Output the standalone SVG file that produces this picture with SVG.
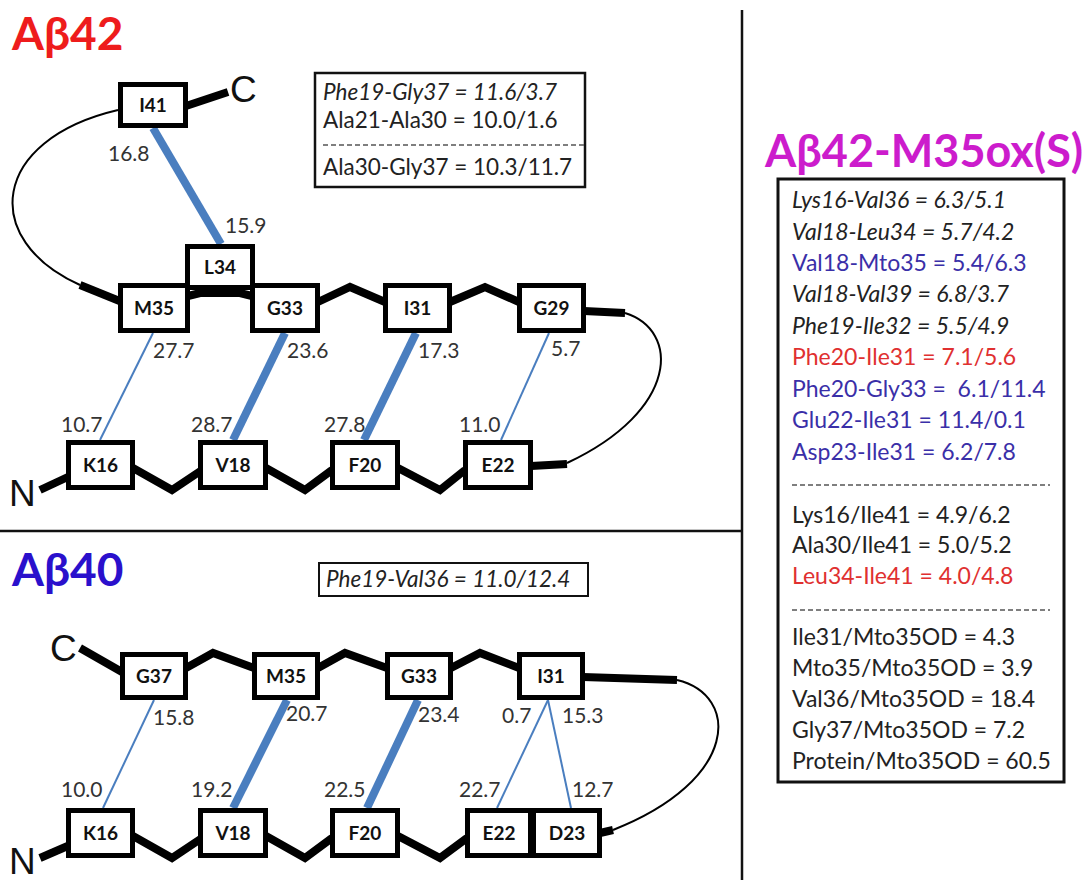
<svg xmlns="http://www.w3.org/2000/svg" width="1082" height="880" viewBox="0 0 1082 880">
<style>
text{font-family:Lato,"Liberation Sans",sans-serif}
.node rect{fill:#fff;stroke:#000;stroke-width:5}
.node text{font-weight:bold;font-size:19px;text-anchor:middle;fill:#111}
.bb{fill:none;stroke:#000;stroke-width:8;stroke-linejoin:miter}
.loop{fill:none;stroke:#000;stroke-width:2}
.hk{stroke:#4a7ebf;stroke-width:8}
.hn{stroke:#4a7ebf;stroke-width:2}
.num{font-size:21px;fill:#333}
.term{font-family:"Liberation Sans",Arial,sans-serif;font-size:37px;fill:#111}
.title{font-weight:bold;font-size:46px}
.leg{font-size:22.5px;fill:#222}
.rl{font-size:23px}
.it{font-style:italic}
.blu{fill:#3a2fa8}
.red{fill:#e03030}
.frame{fill:#fff;stroke:#111;stroke-width:2.5}
.dash{stroke:#555;stroke-width:1.5;stroke-dasharray:5 3}
.div{stroke:#111;stroke-width:2.5}
</style>

<!-- dividers -->
<line class="div" x1="742" y1="10" x2="742" y2="880"/>
<line class="div" x1="0" y1="531" x2="742" y2="531"/>

<!-- titles -->
<text class="title" x="12" y="50" fill="#ee1c1c">Aβ42</text>
<text class="title" x="12" y="586" fill="#2a10cc">Aβ40</text>
<text class="title" x="765" y="167" fill="#cc1ccc" style="font-size:45px">Aβ42-M35ox(S)</text>

<!-- terminals -->
<text class="term" x="230" y="102">C</text>
<text class="term" x="9" y="506">N</text>
<text class="term" x="50" y="661">C</text>
<text class="term" x="9" y="874">N</text>

<!-- connectors -->
<g id="connectors">
  <!-- A42 backbone -->
  <path class="bb" d="M186,106 L228,92"/>
  <path class="loop" d="M118,110 C-10,140 -20,240 80,285"/>
  <path class="bb" d="M80,285 L122,302"/>
  <path class="bb" d="M188,296 L200,293 L240,293 L252,296"/>
  <path class="bb" d="M318,302 L350,287 L385,302"/>
  <path class="bb" d="M450,302 L485,287 L519,302"/>
  <path class="bb" d="M584,311 L625,313"/>
  <path class="loop" d="M625,313 C680,330 680,410 567,463"/>
  <path class="bb" d="M531,466 L567,464"/>
  <path class="bb" d="M40,490 L70,476"/>
  <path class="bb" d="M133,468 L172,490 L202,470"/>
  <path class="bb" d="M266,468 L305,490 L332,470"/>
  <path class="bb" d="M398,468 L440,490 L465,470"/>
  <!-- A42 contacts -->
  <line class="hk" x1="153" y1="128" x2="221" y2="244"/>
  <line class="hn" x1="153" y1="333" x2="100" y2="440"/>
  <line class="hk" x1="285" y1="333" x2="233" y2="440"/>
  <line class="hk" x1="416" y1="333" x2="364" y2="440"/>
  <line class="hn" x1="549" y1="333" x2="501" y2="440"/>
  <!-- A40 backbone -->
  <path class="bb" d="M80,648 L122,672"/>
  <path class="bb" d="M186,668 L213,653 L254,668"/>
  <path class="bb" d="M318,668 L345,653 L387,668"/>
  <path class="bb" d="M451,668 L480,653 L519,668"/>
  <path class="bb" d="M583,677 L677,680"/>
  <path class="loop" d="M677,680 C740,695 740,780 613,830"/>
  <path class="bb" d="M600,833 L613,830"/>
  <path class="bb" d="M40,858 L70,845"/>
  <path class="bb" d="M133,836 L172,858 L202,838"/>
  <path class="bb" d="M266,836 L305,858 L332,838"/>
  <path class="bb" d="M398,836 L440,858 L467,838"/>
  <!-- A40 contacts -->
  <line class="hn" x1="154" y1="700" x2="103" y2="808"/>
  <line class="hk" x1="287" y1="700" x2="233" y2="808"/>
  <line class="hk" x1="418" y1="700" x2="367" y2="808"/>
  <line class="hn" x1="548" y1="700" x2="497" y2="808"/>
  <line class="hn" x1="548" y1="700" x2="571" y2="808"/>
</g>

<!-- A42 nodes -->
<g id="a42-I41" class="node"><rect x="120.5" y="84.5" width="65" height="41"/><text x="153" y="112">I41</text></g>
<g id="a42-L34" class="node"><rect x="187.5" y="246.5" width="65" height="41"/><text x="220" y="274">L34</text></g>
<g id="a42-M35" class="node"><rect x="120.5" y="285.5" width="67" height="45"/><text x="154" y="315">M35</text></g>
<g id="a42-G33" class="node"><rect x="252.5" y="285.5" width="65" height="45"/><text x="285" y="315">G33</text></g>
<g id="a42-I31" class="node"><rect x="385.5" y="285.5" width="64" height="45"/><text x="417.5" y="315">I31</text></g>
<g id="a42-G29" class="node"><rect x="519.5" y="285.5" width="64" height="45"/><text x="551.5" y="315">G29</text></g>
<g id="a42-K16" class="node"><rect x="68.5" y="442.5" width="64" height="45"/><text x="100.5" y="472">K16</text></g>
<g id="a42-V18" class="node"><rect x="200.5" y="442.5" width="65" height="45"/><text x="233" y="472">V18</text></g>
<g id="a42-F20" class="node"><rect x="332.5" y="442.5" width="65" height="45"/><text x="365" y="472">F20</text></g>
<g id="a42-E22" class="node"><rect x="465.5" y="442.5" width="65" height="45"/><text x="498" y="472">E22</text></g>

<!-- A40 nodes -->
<g id="a40-G37" class="node"><rect x="122.5" y="654.5" width="63" height="43"/><text x="154" y="683">G37</text></g>
<g id="a40-M35" class="node"><rect x="254.5" y="654.5" width="63" height="43"/><text x="286" y="683">M35</text></g>
<g id="a40-G33" class="node"><rect x="387.5" y="654.5" width="63" height="43"/><text x="419" y="683">G33</text></g>
<g id="a40-I31" class="node"><rect x="519.5" y="654.5" width="63" height="43"/><text x="551" y="683">I31</text></g>
<g id="a40-K16" class="node"><rect x="68.5" y="810.5" width="64" height="45"/><text x="100.5" y="840">K16</text></g>
<g id="a40-V18" class="node"><rect x="200.5" y="810.5" width="65" height="45"/><text x="233" y="840">V18</text></g>
<g id="a40-F20" class="node"><rect x="332.5" y="810.5" width="65" height="45"/><text x="365" y="840">F20</text></g>
<g id="a40-E22" class="node"><rect x="467.5" y="810.5" width="63" height="45"/><text x="499" y="840">E22</text></g>
<g id="a40-D23" class="node"><rect x="533.5" y="810.5" width="66" height="45"/><text x="567" y="840">D23</text></g>

<!-- distance labels -->
<g id="labels" class="num">
  <text x="108" y="161">16.8</text>
  <text x="225" y="233">15.9</text>
  <text x="153" y="358">27.7</text>
  <text x="287" y="358">23.6</text>
  <text x="418" y="358">17.3</text>
  <text x="551" y="356">5.7</text>
  <text x="61" y="432">10.7</text>
  <text x="191" y="432">28.7</text>
  <text x="324" y="432">27.8</text>
  <text x="459" y="432">11.0</text>
  <text x="153" y="725">15.8</text>
  <text x="286" y="721">20.7</text>
  <text x="418" y="722">23.4</text>
  <text x="502" y="723">0.7</text>
  <text x="562" y="723">15.3</text>
  <text x="61" y="797">10.0</text>
  <text x="191" y="797">19.2</text>
  <text x="324" y="797">22.5</text>
  <text x="459" y="797">22.7</text>
  <text x="572" y="797">12.7</text>
</g>

<!-- A42 legend -->
<g id="legend-a42">
  <rect class="frame" x="315" y="73" width="270" height="114"/>
  <text class="leg it" x="323" y="100">Phe19-Gly37 = 11.6/3.7</text>
  <text class="leg" x="323" y="128">Ala21-Ala30 = 10.0/1.6</text>
  <line class="dash" x1="323" y1="145" x2="585" y2="145"/>
  <text class="leg" x="323" y="175">Ala30-Gly37 = 10.3/11.7</text>
</g>

<!-- A40 legend -->
<g id="legend-a40">
  <rect class="frame" x="319" y="563" width="269" height="33" style="stroke-width:2"/>
  <text class="leg it" x="326" y="587">Phe19-Val36 = 11.0/12.4</text>
</g>

<!-- M35ox legend -->
<g id="legend-m35ox">
  <rect class="frame" x="778" y="179" width="286" height="603" style="stroke-width:3"/>
  <text class="leg rl it" x="792" y="208">Lys16-Val36 = 6.3/5.1</text>
  <text class="leg rl it" x="792" y="240">Val18-Leu34 = 5.7/4.2</text>
  <text class="leg rl blu" x="792" y="271">Val18-Mto35 = 5.4/6.3</text>
  <text class="leg rl it" x="792" y="302">Val18-Val39 = 6.8/3.7</text>
  <text class="leg rl it" x="792" y="334">Phe19-Ile32 = 5.5/4.9</text>
  <text class="leg rl red" x="792" y="365">Phe20-Ile31 = 7.1/5.6</text>
  <text class="leg rl blu" x="792" y="397" xml:space="preserve">Phe20-Gly33 =  6.1/11.4</text>
  <text class="leg rl blu" x="792" y="428">Glu22-Ile31 = 11.4/0.1</text>
  <text class="leg rl blu" x="792" y="460">Asp23-Ile31 = 6.2/7.8</text>
  <line class="dash" x1="792" y1="485" x2="1050" y2="485"/>
  <text class="leg rl" x="792" y="523">Lys16/Ile41 = 4.9/6.2</text>
  <text class="leg rl" x="792" y="553">Ala30/Ile41 = 5.0/5.2</text>
  <text class="leg rl red" x="792" y="584">Leu34-Ile41 = 4.0/4.8</text>
  <line class="dash" x1="792" y1="610" x2="1050" y2="610"/>
  <text class="leg rl" x="792" y="645">Ile31/Mto35OD = 4.3</text>
  <text class="leg rl" x="792" y="676">Mto35/Mto35OD = 3.9</text>
  <text class="leg rl" x="792" y="707">Val36/Mto35OD = 18.4</text>
  <text class="leg rl" x="792" y="738">Gly37/Mto35OD = 7.2</text>
  <text class="leg rl" x="792" y="769">Protein/Mto35OD = 60.5</text>
</g>
</svg>
